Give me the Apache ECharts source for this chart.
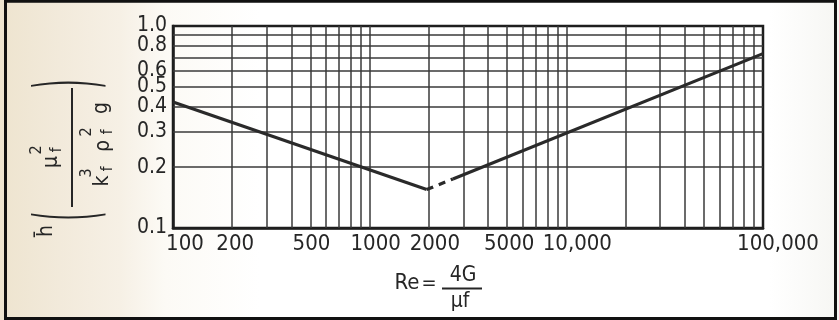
<!DOCTYPE html>
<html>
<head>
<meta charset="utf-8">
<script src="https://cdn.jsdelivr.net/npm/echarts@6/dist/echarts.min.js"></script>
<style>
  html, body { margin: 0; padding: 0; }
  #c {
    width: 839px; height: 320px;
    background: linear-gradient(to right, #eee4cf 0px, #f2eadb 60px, #f6f0e5 120px, #fcfaf5 165px, #ffffff 260px, #ffffff 770px, #f6f6f3 839px);
  }
</style>
</head>
<body>
<div id="c"></div>
<script>
// ---- data ----
const xTickValues = [100, 200, 500, 1000, 2000, 5000, 10000, 100000];
const xTickLabels = ['100', '200', '500', '1000', '2000', '5000', '10,000', '100,000'];
const yTickValues = [0.1, 0.2, 0.3, 0.4, 0.5, 0.6, 0.8, 1.0];
const yTickLabels = ['0.1', '0.2', '0.3', '0.4', '0.5', '0.6', '0.8', '1.0'];
const xGridValues = [200, 300, 400, 500, 600, 700, 800, 900, 1000,
                     2000, 3000, 4000, 5000, 6000, 7000, 8000, 9000, 10000,
                     20000, 30000, 40000, 50000, 60000, 70000, 80000, 90000];
const yGridValues = [0.2, 0.3, 0.4, 0.5, 0.6, 0.7, 0.8, 0.9];
const laminarBranch = [[100, 0.42], [1950, 0.155]];
const transitionBranch = [[1950, 0.155], [2650, 0.175]];
const turbulentBranch = [[2650, 0.175], [100000, 0.73]];

// ---- style ----
const FONT = "'Liberation Sans Narrow', 'DejaVu Sans Condensed', sans-serif";
const INK = '#262626';
const xLabelShift = [12, 3, 1, 6, 6, 2, 11, 15];

const xRich = {};
xTickLabels.forEach((l, i) => {
  xRich['p' + i] = { fontSize: 22, fontFamily: FONT, color: INK, padding: [0, 0, 0, 2 * xLabelShift[i]] };
});

const chart = echarts.init(document.getElementById('c'), null, { renderer: 'canvas' });

function txt(t, x, y, size, extra) {
  return Object.assign({
    type: 'text', x: x, y: y,
    style: { text: t, fontSize: size, fontFamily: FONT, fill: INK, align: 'center', verticalAlign: 'middle' }
  }, extra || {});
}

function yLabelFmt(v) {
  let best = -1, bd = 1e9;
  yTickValues.forEach((t, i) => { const d = Math.abs(t - v); if (d < bd) { bd = d; best = i; } });
  return bd < 1e-6 ? yTickLabels[best] : '';
}

function yAxisDef(values, showLine) {
  return {
    type: 'log', logBase: 10, min: 0.1, max: 1, position: 'left', offset: 0,
    axisLine: { show: showLine, onZero: false, lineStyle: { color: '#1e1e1e', width: 2.5 } },
    axisTick: { show: false },
    splitLine: { show: false },
    axisLabel: {
      customValues: values,
      showMinLabel: true, showMaxLabel: true, hideOverlap: false,
      margin: 6,
      fontSize: 21, fontFamily: FONT, color: INK,
      formatter: yLabelFmt
    }
  };
}

const option = {
  animation: false,
  backgroundColor: 'transparent',
  grid: {
    left: 173, right: 76, top: 26, bottom: 92,
    show: true, borderColor: '#1e1e1e', borderWidth: 2.5, backgroundColor: 'transparent'
  },
  xAxis: {
    type: 'log', logBase: 10, min: 100, max: 100000,
    axisLine: { show: true, onZero: false, lineStyle: { color: '#1e1e1e', width: 2.5 } },
    axisTick: { show: false },
    splitLine: { show: false },
    minorSplitLine: { show: false },
    axisLabel: {
      customValues: xTickValues,
      showMinLabel: true, showMaxLabel: true,
      margin: 5,
      fontSize: 22, fontFamily: FONT, color: INK,
      formatter: function (v) {
        const i = xTickValues.indexOf(Math.round(v));
        return i >= 0 ? '{p' + i + '|' + xTickLabels[i] + '}' : '';
      },
      rich: xRich
    }
  },
  yAxis: [
    yAxisDef(yTickValues.slice(0, -1), true),
    yAxisDef(yTickValues.slice(-1), false)
  ],
  series: [
    {
      type: 'line', data: laminarBranch, symbol: 'none', z: 10,
      lineStyle: { color: '#2a2a2a', width: 3.2 },
      markLine: {
        silent: true, symbol: 'none', animation: false,
        label: { show: false },
        lineStyle: { color: '#3a3a3a', width: 1.5, type: 'solid' },
        data: xGridValues.map(v => ({ xAxis: v })).concat(yGridValues.map(v => ({ yAxis: v })))
      }
    },
    {
      type: 'line', data: transitionBranch, symbol: 'none', z: 10,
      lineStyle: { color: '#2a2a2a', width: 3.2, type: [7, 6] }
    },
    {
      type: 'line', data: turbulentBranch, symbol: 'none', z: 10,
      lineStyle: { color: '#2a2a2a', width: 3.2 }
    }
  ],
  graphic: [
    // outer frame
    { type: 'rect', z: 100, silent: true, shape: { x: 5.5, y: 1.25, width: 830, height: 317.25 },
      style: { fill: 'none', stroke: '#111', lineWidth: 3 } },
    // x axis name: Re = 4G / μf
    txt('Re', 407, 283, 22),
    txt('=', 429, 284, 20),
    txt('4G', 463, 276, 21),
    { type: 'line', shape: { x1: 442, y1: 288.5, x2: 482, y2: 288.5 }, style: { stroke: INK, lineWidth: 1.8 } },
    txt('μf', 460, 302, 21),
    // y axis name (rotated): h̄ ( μf² / kf³ ρf² g )
    {
      type: 'group', x: 0, y: 320, rotation: Math.PI / 2,
      children: [
        txt('h\u0304', 89, 47, 21),
        txt('(', 104, 73, 84, { scaleX: 0.3 }),
        txt(')', 236, 73, 84, { scaleX: 0.3 }),
        { type: 'line', shape: { x1: 113, y1: 72, x2: 232, y2: 72 }, style: { stroke: INK, lineWidth: 2 } },
        // numerator
        txt('μ', 158, 52, 21),
        txt('f', 170, 57, 15),
        txt('2', 170, 37, 16),
        // denominator
        txt('k', 139, 103, 21),
        txt('f', 151, 108, 15),
        txt('3', 147, 87, 16),
        txt('ρ', 174, 104, 21),
        txt('f', 188, 108, 15),
        txt('2', 188, 87, 16),
        txt('g', 212, 102, 21)
      ]
    }
  ]
};
chart.setOption(option);
</script>
</body>
</html>
